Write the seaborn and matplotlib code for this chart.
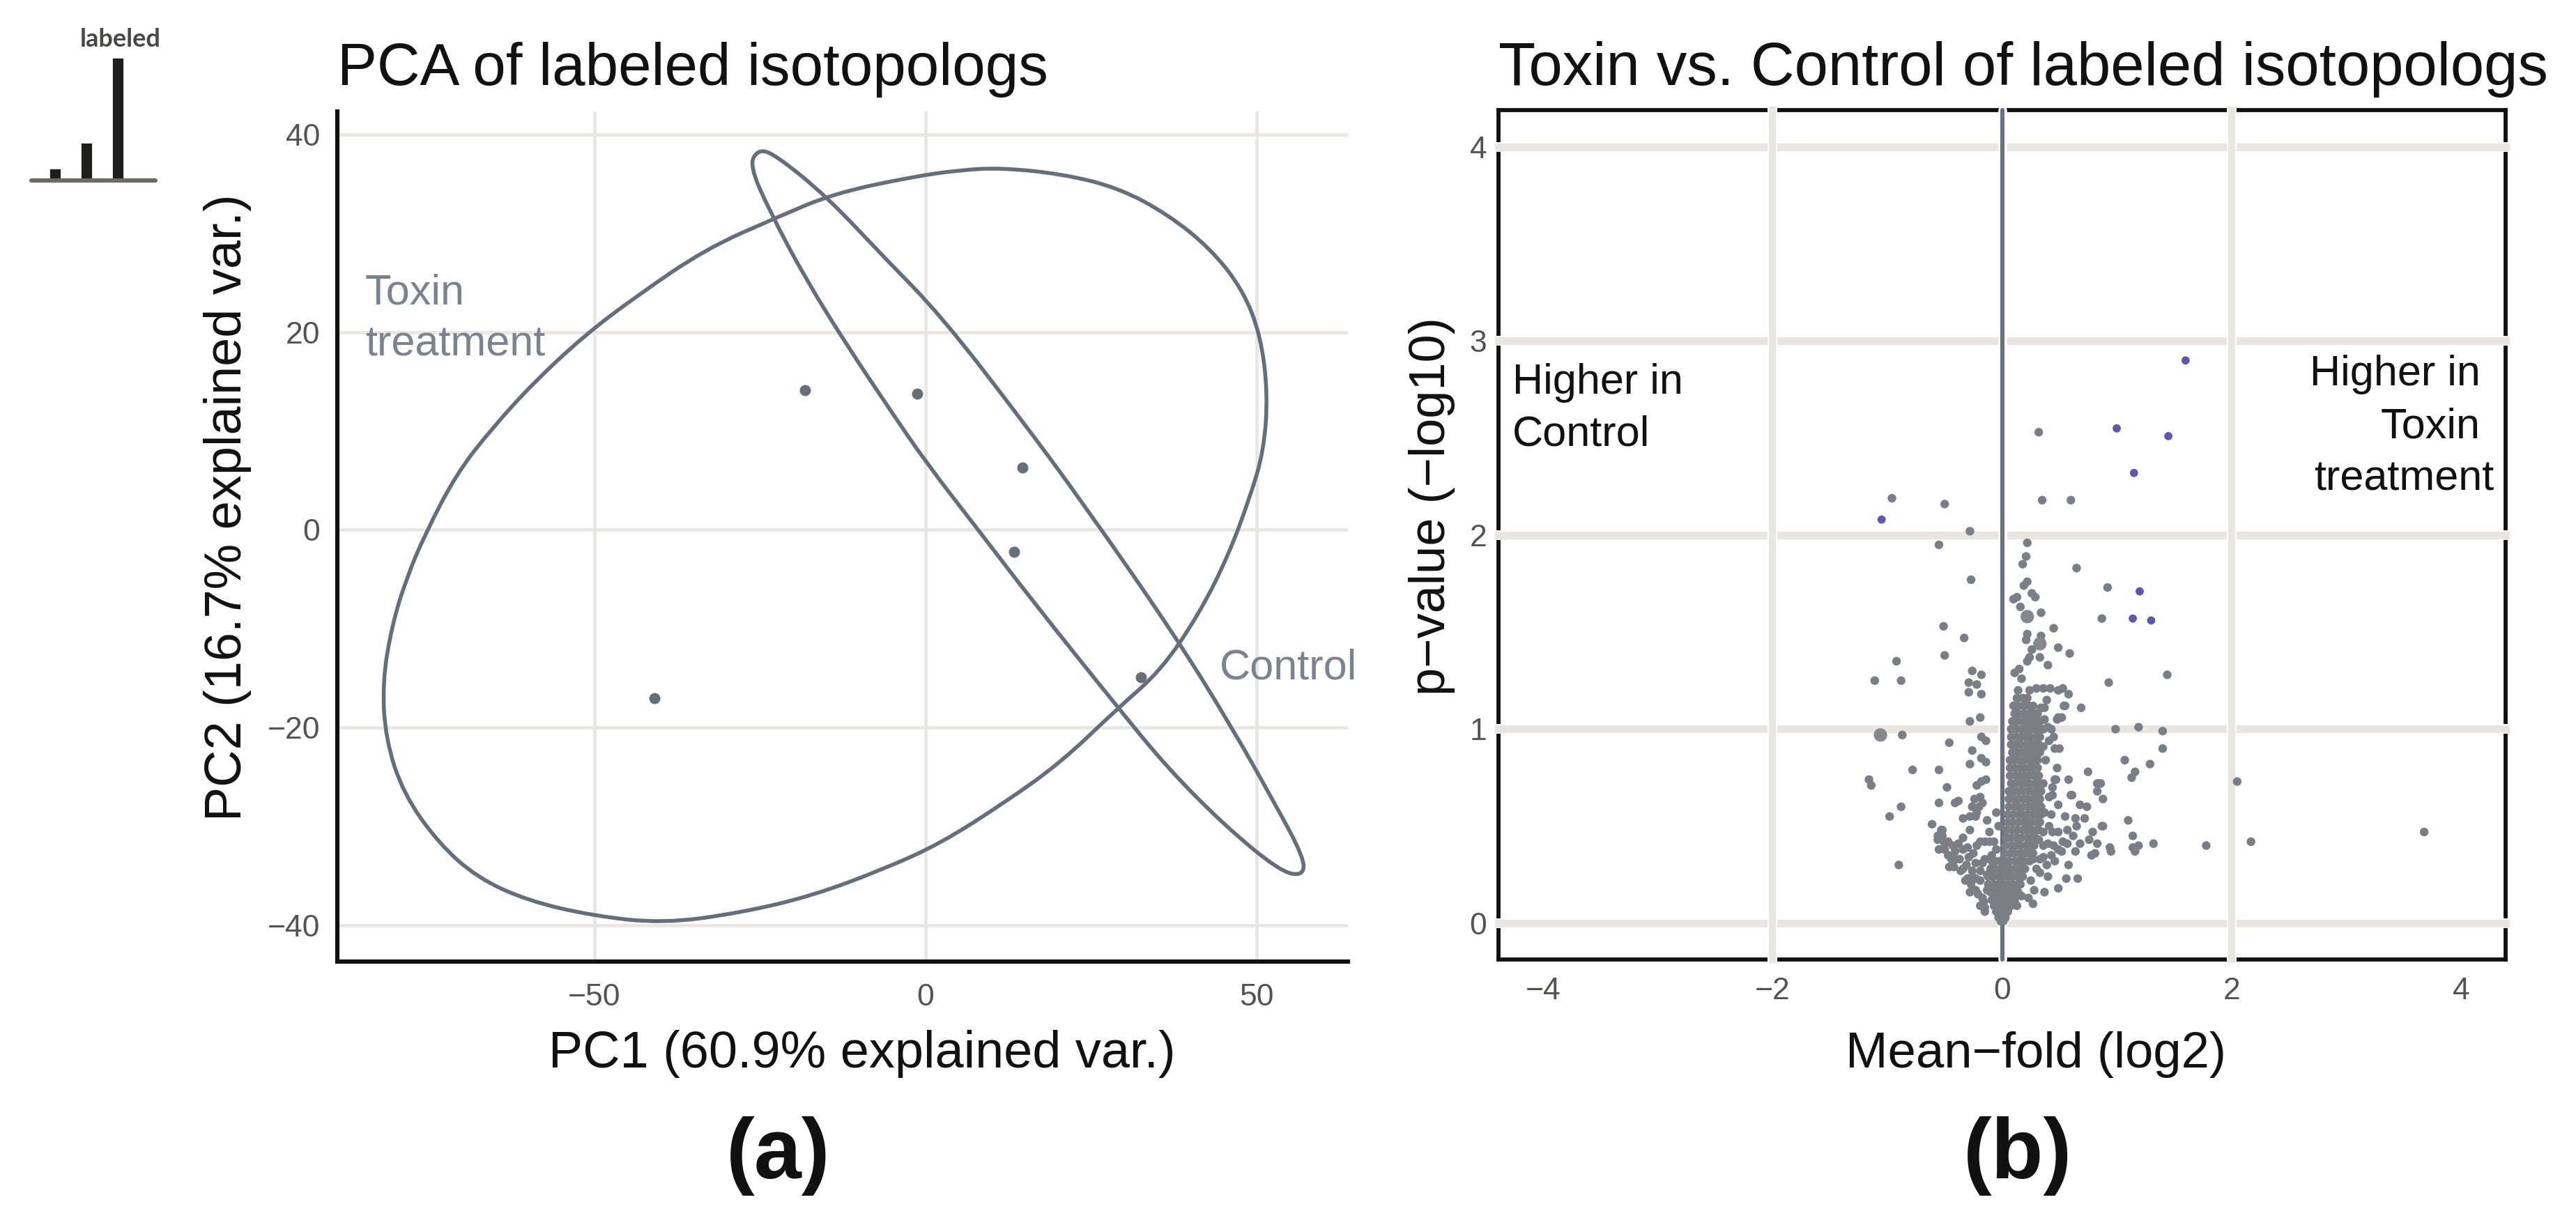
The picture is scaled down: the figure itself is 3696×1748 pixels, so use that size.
import seaborn as sns
import matplotlib.pyplot as plt
import matplotlib.patheffects as pe
from matplotlib.patches import PathPatch
from matplotlib.path import Path
import pandas as pd

W, H = 3696, 1748
GRID = "#e9e6e2"
SLATE = "#656e7a"
DOT = "#7a7f87"
BLUE = "#5d58aa"
TICK = "#555350"

# isotopolog pattern inset
bar_names = ["m1", "m2", "m3"]
bar_vals = [10, 31, 100]

# panel a: sample scores
pc1 = [-18.2, -1.2, 14.6, 13.4, 32.5, -40.9]
pc2 = [14.1, 13.8, 6.3, -2.2, -14.9, -17.0]

# panel a: outlines
toxin_x = [11.4, 20.5, 29.1, 36.6, 43.1, 47.9, 50.6, 51.7, 51.1, 49.0, 45.8, 41.5, 35.6, 29.1, 20.5,
           11.9, 2.3, -6.3, -17.1, -27.8, -39.6, -50.4, -60.0, -67.6, -73.5, -78.8, -81.5, -82.0,
           -80.5, -78.3, -75.6, -70.8, -65.4, -59.0, -51.4, -43.9, -33.2, -22.4, -13.9, -2.0, 5.5]
toxin_y = [36.6, 36.0, 34.6, 31.9, 28.4, 24.3, 19.7, 13.8, 8.0, 3.3, -2.5, -8.3, -14.2, -18.0, -23.5,
           -27.6, -31.7, -34.3, -37.0, -38.7, -39.8, -39.0, -37.5, -35.2, -31.7, -26.7, -21.2, -15.4,
           -9.5, -4.8, -0.5, 5.7, 10.3, 15.0, 19.7, 23.5, 28.4, 31.6, 34.0, 35.7, 36.4]
control_x = [-25.2, -22.6, -14.9, -6.3, 2.3, 14.1, 23.8, 37.7, 46.3, 52.7, 57.2, 57.0, 53.5, 45.2, 36.6,
             29.1, 16.2, 8.2, 0.1, -5.3, -11.7, -18.2, -23.5, -26.6]
control_y = [38.5, 37.9, 33.7, 27.6, 21.7, 11.5, 2.7, -10.7, -20.0, -27.6, -33.2, -35.0, -34.5, -29.9, -24.1,
             -18.0, -7.2, -0.2, 6.8, 12.1, 18.5, 25.5, 32.2, 36.9]

# panel b: significant isotopologs
sig_x = [1.60, 1.00, 1.45, 1.15, -1.05, 1.20, 1.14, 1.30]
sig_y = [2.90, 2.55, 2.51, 2.32, 2.08, 1.71, 1.57, 1.56]

# panel b: bigger dots
big_x = [0.22, 0.33, -1.06]
big_y = [1.58, 1.44, 0.97]

# panel b: single grey dots
grey_pts = [
    (.32, 2.53), (-.96, 2.19), (-.50, 2.16), (.35, 2.18), (.60, 2.18), (-.28, 2.02), (-.55, 1.95), (.22, 1.96),
    (.21, 1.89), (.18, 1.85), (.65, 1.83), (-.27, 1.77), (.22, 1.76), (.19, 1.74), (.92, 1.73), (.13, 1.68),
    (.10, 1.67), (.26, 1.70), (.29, 1.68), (.16, 1.63), (.34, 1.60), (.87, 1.57), (-.51, 1.53), (-.33, 1.47),
    (.45, 1.52), (.22, 1.49), (.21, 1.46), (.34, 1.48), (.26, 1.41), (.49, 1.42), (.59, 1.39), (-.50, 1.38),
    (.24, 1.37), (.33, 1.37), (.22, 1.35), (-.92, 1.35), (.40, 1.33), (-1.11, 1.25), (-.88, 1.25), (1.44, 1.28),
    (.93, 1.24), (-.26, 1.30), (-.18, 1.28), (-.29, 1.24), (-.22, 1.23), (-.29, 1.19), (-.18, 1.18), (.15, 1.31),
    (.11, 1.29), (.17, 1.26), (.14, 1.20), (.24, 1.20), (.30, 1.21), (.36, 1.21), (.42, 1.21), (.49, 1.20),
    (.53, 1.21), (.58, 1.18), (.69, 1.11), (.55, 1.12), (.48, 1.05), (.52, 1.06), (-.19, 1.06), (-.28, 1.04),
    (.99, 1.00), (1.19, 1.01), (1.40, .99), (-.87, .97), (-.18, .96), (-.14, .94), (-.46, .93), (1.40, .90),
    (-.26, .89), (1.07, .84), (1.29, .82), (-.18, .85), (-.14, .83), (-.28, .82), (-.78, .79), (-.55, .79),
    (1.16, .78), (1.13, .75), (2.05, .73), (-1.16, .74), (-1.14, .71), (-.48, .70), (-.18, .73), (-.14, .74),
    (-.22, .71), (.48, .80), (.47, .74), (.58, .74), (.75, .78), (.84, .72), (.83, .68), (.88, .64), (.60, .66),
    (-.88, .60), (-.55, .62), (-.41, .62), (-.38, .63), (-.24, .64), (-.20, .60), (-.22, .57), (-.17, .62),
    (-.26, .60), (-.19, .65), (-.23, .55), (-.98, .55), (-.61, .51), (-.53, .48), (-.52, .45), (-.56, .43),
    (1.10, .53), (.88, .50), (1.14, .45), (1.14, .39), (1.19, .40), (1.16, .37), (1.32, .41), (.94, .39),
    (.95, .37), (1.78, .40), (2.17, .42), (3.68, .47), (-.90, .30),
    (.37, 1.05), (.49, 1.06), (.43, 1.00), (.45, .96), (.41, .94), (.46, .90), (.50, .90), (.37, 1.11), (.39, 1.15),
    (.54, 1.12), (.46, .74), (.83, .72), (.86, .72), (.61, .66), (.44, .70), (.41, .65), (.44, .66), (.49, .61),
    (.68, .61), (.74, .60), (.55, .55), (.64, .54), (.72, .54), (.65, .50), (.87, .50), (.37, .57), (.43, .56),
    (.41, .50), (.49, .47), (.57, .48), (.62, .45), (.53, .42), (.45, .40), (.40, .41), (.49, .38), (.57, .41),
    (.64, .37), (.68, .41), (.76, .43), (.79, .47), (.83, .41), (.78, .35), (.81, .36), (.33, .33), (.27, .33),
    (.46, .32), (.39, .30), (.33, .26), (.58, .30), (.56, .23), (.66, .23), (.37, .16), (.49, .18), (.25, .22),
    (.19, .28), (.27, .10), (.23, .13), (.17, .14), (.13, .09),
    (-.52, .48), (-.56, .45), (-.50, .41), (-.43, .40), (-.55, .38), (-.47, .35), (-.40, .33), (-.46, .29),
    (-.34, .44), (-.28, .48), (-.30, .39), (-.34, .28), (-.30, .23), (-.23, .17), (-.15, .08), (-.16, .11),
    (-.19, .42), (-.11, .42), (-.15, .33), (-.09, .35), (-.13, .53), (-.05, .57), (-.19, .27), (-.34, .54),
    (-.28, .55), (-.38, .41), (-.50, .38), (-.34, .38), (-.29, .34), (-.44, .33), (-.42, .29), (-.36, .27),
    (-.32, .22), (-.27, .20), (-.21, .15), (-.17, .13), (-.15, .06), (-.19, .22), (-.13, .25), (-.09, .27),
    (-.23, .31), (-.11, .33), (-.05, .38), (-.07, .42),
    # denser parts of the two side lobes
    (-.47, .42), (-.41, .37), (-.37, .33), (-.31, .30), (-.26, .27), (-.25, .36), (-.22, .40), (-.15, .42),
    (-.26, .24), (-.23, .23), (-.28, .16), (-.17, .31), (-.13, .17), (-.19, .09), (-.11, .47), (-.03, .50),
    (-.08, .31), (.36, .47), (.36, .40), (.32, .43), (.44, .47), (.52, .37), (.43, .35), (.36, .34), (.30, .28),
    (.40, .24), (.28, .17), (.31, .62), (.36, .72), (.38, .84), (.40, 1.01), (.36, .91), (.34, 1.11),
]

# panel b: the dense core, row by row
core_y = [1.16, 1.12, 1.08, 1.04, 1.00, .96, .92, .88, .84, .80, .76, .72, .68, .64, .60, .56, .52, .48, .44, .40,
          .36, .32, .28, .24, .20, .16, .12, .09, .06, .03, .01]
core_x = [
    [.13, .18, .22],
    [.10, .14, .19, .23, .27],
    [.11, .15, .19, .24, .28, .31],
    [.09, .13, .18, .22, .26, .30, .33],
    [.08, .12, .17, .21, .25, .29, .33, .36],
    [.08, .13, .17, .21, .25, .30, .33],
    [.08, .12, .16, .21, .25, .28, .32],
    [.09, .13, .18, .22, .26, .30, .33],
    [.07, .11, .15, .20, .24, .28, .31],
    [.07, .11, .16, .19, .24, .27, .31],
    [.07, .12, .15, .20, .23, .28, .32],
    [.08, .12, .17, .20, .24, .29, .33],
    [.06, .10, .15, .18, .23, .26, .30, .34],
    [.06, .10, .14, .19, .22, .27, .30, .33],
    [.06, .11, .14, .18, .23, .26, .31, .34],
    [.05, .10, .15, .18, .22, .27, .30, .34],
    [.05, .09, .14, .19, .23, .26, .31, .33],
    [.04, .09, .13, .18, .21, .26, .30, .32],
    [.04, .08, .13, .17, .22, .25, .29],
    [.03, .08, .12, .16, .21, .24, .28],
    [.02, .07, .11, .16, .20, .24, .27],
    [-.06, -.02, .02, .06, .11, .15, .19, .24],
    [-.10, -.06, -.01, .03, .07, .12, .16, .20],
    [-.12, -.08, -.03, .01, .05, .09, .14, .18],
    [-.12, -.07, -.03, .01, .05, .09, .13, .16],
    [-.10, -.06, -.02, .02, .06, .10, .14],
    [-.09, -.05, -.01, .03, .07, .11],
    [-.07, -.03, .01, .05, .08],
    [-.05, -.02, .02, .05],
    [-.03, 0, .03],
    [-.01, .01],
]

x_ticks_a = [-50, 0, 50]
y_ticks_a = [-40, -20, 0, 20, 40]
x_ticks_b = [-2, 0, 2]
y_ticks_b = [0, 1, 2, 3, 4]


def ax_at(x0, y0, x1, y1):
    # pixel box of the reference, y from the top
    return fig.add_axes([x0 / W, 1 - y1 / H, (x1 - x0) / W, (y1 - y0) / H])


def fx(px):
    return px / W


def fy(py):
    return 1 - py / H


def outline(ax, xs, ys):
    # closed curve with the read points as its control points
    n = len(xs)
    mid = lambda i: ((xs[i % n] + xs[(i + 1) % n]) / 2, (ys[i % n] + ys[(i + 1) % n]) / 2)
    verts = [mid(0)]
    codes = [Path.MOVETO]
    for i in range(1, n + 1):
        verts += [(xs[i % n], ys[i % n]), mid(i)]
        codes += [Path.CURVE3, Path.CURVE3]
    ax.add_patch(PathPatch(Path(verts, codes), fill=False, edgecolor=SLATE, lw=2.0, zorder=3))


sns.set_theme(style="white")
plt.rcParams["font.family"] = ["Liberation Sans", "DejaVu Sans"]

fig = plt.figure(figsize=(W / 200, H / 200), dpi=200, facecolor="white")

# inset with the labelling pattern
ax0 = ax_at(45, 82, 223, 259)
sns.barplot(x=bar_names, y=bar_vals, color="#1f1e1b", width=0.4, saturation=1, ax=ax0)
ax0.set_xlim(-0.76, 3.2)
ax0.set_ylim(0, 100)
ax0.axis("off")
ax0.axhline(0, color="#6e6a62", lw=2.2, clip_on=False)
fig.text(fx(173), fy(67), "labeled", family="Lato", weight="bold", fontsize=13, color="#4a4845",
         ha="center", va="baseline")

# panel a
ax1 = ax_at(484, 160, 1934, 1380)
ax1.set_xlim(-88.8, 63.8)
ax1.set_ylim(-43.65, 42.3)
outline(ax1, toxin_x, toxin_y)
outline(ax1, control_x, control_y)
sns.scatterplot(x=pc1, y=pc2, color="#666e78", s=33, linewidth=0, ax=ax1, zorder=4)
ax1.set_xticks(x_ticks_a)
ax1.set_yticks(y_ticks_a)
ax1.grid(True, color=GRID, lw=1.7)
ax1.tick_params(length=0, labelsize=16, labelcolor=TICK)
ax1.tick_params(axis="x", pad=11)
ax1.tick_params(axis="y", pad=9)
sns.despine(ax=ax1)
for s in ["left", "bottom"]:
    ax1.spines[s].set_color("#111111")
    ax1.spines[s].set_linewidth(2.2)
ax1.set_title("PCA of labeled isotopologs", fontsize=30.7, color="#111111", loc="left", pad=0, y=(1380 - 122) / 1220)
ax1.set_xlabel("PC1 (60.9% explained var.)", fontsize=26.6, color="#111111", va="baseline")
ax1.xaxis.set_label_coords((1237 - 484) / 1450, (1380 - 1532) / 1220)
ax1.set_ylabel("PC2 (16.7% explained var.)", fontsize=26.6, color="#111111", va="baseline")
ax1.yaxis.set_label_coords((346 - 484) / 1450, (1380 - 728) / 1220)
ax1.text(-84.6, 21.3, "Toxin\ntreatment", fontsize=22, color="#7c8290", va="center", linespacing=1.4)
ax1.text(44.4, -14.0, "Control", fontsize=22, color="#7c8290", va="center")

# panel b
ax2 = ax_at(2150, 158, 3595, 1377)
ax2.set_xlim(-4.39, 4.39)
ax2.set_ylim(-0.187, 4.19)

rows = [(x, y, "other") for x, y in grey_pts]
for y, xs in zip(core_y, core_x):
    rows += [(x, y, "other") for x in xs]
rows += [(x, y, "big") for x, y in zip(big_x, big_y)]
rows += [(x, y, "sig") for x, y in zip(sig_x, sig_y)]
volcano = pd.DataFrame(rows, columns=["fold", "pval", "kind"])

halo = [pe.Stroke(linewidth=5, foreground="white"), pe.Normal()]
ax2.axvline(0, color="#687280", lw=2.2, zorder=3.5, clip_on=False,
            path_effects=[pe.Stroke(linewidth=4.5, foreground="white"), pe.Normal()])
sns.scatterplot(data=volcano, x="fold", y="pval", hue="kind", size="kind",
                palette={"other": DOT, "big": "#85898f", "sig": BLUE},
                sizes={"other": 20, "big": 48, "sig": 18},
                linewidth=0, legend=False, ax=ax2, zorder=4)
ax2.set_xticks([-4, -2, 0, 2, 4])
ax2.set_xticklabels(["−4", "−2", "0", "2", "4"])
ax2.set_yticks(y_ticks_b)
ax2.grid(False)
for v in y_ticks_b:
    ax2.axhline(v, color=GRID, lw=4, zorder=3, clip_on=False, solid_capstyle="projecting", path_effects=halo)
for v in x_ticks_b:
    if v != 0:
        ax2.axvline(v, color=GRID, lw=3.6, zorder=3, clip_on=False, solid_capstyle="projecting", path_effects=halo)
ax2.tick_params(length=0, labelsize=16, labelcolor=TICK)
ax2.tick_params(axis="x", pad=9)
ax2.tick_params(axis="y", pad=6)
for s in ax2.spines.values():
    s.set_color("#111111")
    s.set_linewidth(2.1)
    s.set_zorder(1)
ax2.set_title("Toxin vs. Control of labeled isotopologs", fontsize=31.3, color="#111111", loc="left", pad=0,
              y=(1377 - 122) / 1219)
ax2.set_xlabel("Mean−fold (log2)", fontsize=26.1, color="#111111", va="baseline")
ax2.xaxis.set_label_coords((2921 - 2150) / 1445, (1377 - 1532) / 1219)
ax2.set_ylabel("p−value (−log10)", fontsize=26, color="#111111", va="baseline")
ax2.yaxis.set_label_coords((2073 - 2150) / 1445, (1377 - 727) / 1219)
ax2.text(-4.27, 2.73, "Higher in", fontsize=22, color="#111111", va="baseline")
ax2.text(-4.27, 2.46, "Control", fontsize=22, color="#111111", va="baseline")
ax2.text(4.17, 2.77, "Higher in", fontsize=22, color="#111111", ha="right", va="baseline")
ax2.text(4.17, 2.50, "Toxin", fontsize=22, color="#111111", ha="right", va="baseline")
ax2.text(4.29, 2.23, "treatment", fontsize=22, color="#111111", ha="right", va="baseline")

fig.text(fx(1117), fy(1691), "(a)", fontsize=44, weight="bold", color="#111111", ha="center", va="baseline")
fig.text(fx(2895), fy(1691), "(b)", fontsize=44, weight="bold", color="#111111", ha="center", va="baseline")

fig.savefig("out.png", dpi=200)
